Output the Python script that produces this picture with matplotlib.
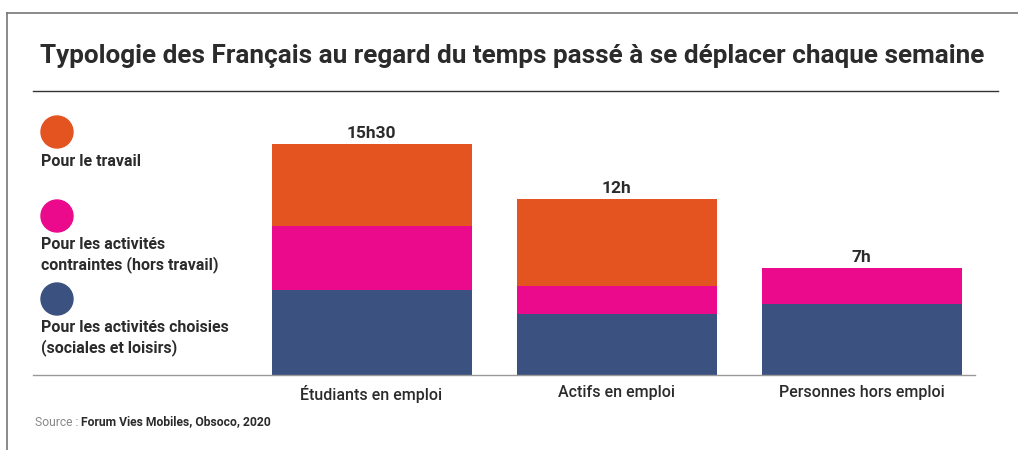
import matplotlib.pyplot as plt
from matplotlib.patches import Ellipse
from matplotlib.lines import Line2D
import numpy as np
from matplotlib import font_manager

# Données (heures par semaine)
categories = ['Étudiants en emploi', 'Actifs en emploi', 'Personnes hors emploi']
choisies = [5.7, 4.1, 4.75]
contraintes = [4.3, 1.9, 2.4]
travail = [5.5, 5.8, 0.0]
totaux_labels = ['15h30', '12h', '7h']
series_labels = ['Pour le travail',
                 'Pour les activités\ncontraintes (hors travail)',
                 'Pour les activités choisies\n(sociales et loisirs)']

COL_TRAVAIL = '#E35420'
COL_CONTR = '#EB0A8C'
COL_CHOIS = '#3B5280'
TXT = '#2B2B2B'

installed = {f.name for f in font_manager.fontManager.ttflist}
fam = [f for f in ['Liberation Sans Narrow', 'DejaVu Sans Condensed', 'Roboto', 'DejaVu Sans'] if f in installed]
plt.rcParams['font.family'] = fam

W, H = 1018, 450
fig = plt.figure(figsize=(W / 100, H / 100), dpi=100)

def fx(px):
    return px / W

def fy(py):
    return 1 - py / H

# cadre
fig.add_artist(Line2D([fx(7), 1], [fy(13), fy(13)], color='#777777', lw=1.2))
fig.add_artist(Line2D([fx(7), fx(7)], [fy(13), 0], color='#777777', lw=1.2))

# titre
fig.text(fx(40), fy(56), 'Typologie des Français au regard du temps passé à se déplacer chaque semaine',
         fontsize=18.8, fontweight='bold', color=TXT, va='center', ha='left')
fig.add_artist(Line2D([fx(33), fx(998)], [fy(91), fy(91)], color='#333333', lw=1))

# axes : baseline y=375, x de 33 à 975
ax = fig.add_axes([fx(33), fy(375), fx(975) - fx(33), fy(100) - fy(375)])
px_per_unit = 245
x = np.arange(len(categories))
ax.set_xlim((33 - 371.5) / px_per_unit, (975 - 371.5) / px_per_unit)
ax.set_ylim(0, 275 / 14.9)

bw = 200 / px_per_unit
b1 = np.array(choisies)
b2 = b1 + np.array(contraintes)
ax.bar(x, choisies, width=bw, color=COL_CHOIS)
ax.bar(x, contraintes, width=bw, bottom=b1, color=COL_CONTR)
ax.bar(x, travail, width=bw, bottom=b2, color=COL_TRAVAIL)

tot = b2 + np.array(travail)
for xi, t, lab in zip(x, tot, totaux_labels):
    ax.text(xi, t + 0.2, lab, ha='center', va='bottom', fontsize=12.5,
            fontweight='bold', color=TXT)

for s in ['top', 'right', 'left']:
    ax.spines[s].set_visible(False)
ax.spines['bottom'].set_color('#999999')
ax.spines['bottom'].set_linewidth(1)
ax.set_yticks([])
ax.set_xticks(x)
ax.set_xticklabels(categories, fontsize=11.5, color=TXT, fontweight='medium')
ax.tick_params(axis='x', length=0, pad=7)
ax.patch.set_alpha(0)

# légende
leg_y = [132, 216, 299]
txt_y = [162, 255, 338]
for c, ly, ty, lab in zip([COL_TRAVAIL, COL_CONTR, COL_CHOIS], leg_y, txt_y, series_labels):
    fig.add_artist(Ellipse((fx(57), fy(ly)), width=32 / W, height=32 / H, color=c,
                           transform=fig.transFigure))
    fig.text(fx(41), fy(ty), lab, fontsize=11.5, fontweight='bold', color=TXT,
             va='center', ha='left', linespacing=1.3)

# source
t1 = fig.text(fx(35), fy(422), 'Source : ', fontsize=8.7, color='#888888', va='center', ha='left')
fig.canvas.draw()
bb = t1.get_window_extent()
fig.text(bb.x1 / W, fy(422), 'Forum Vies Mobiles, Obsoco, 2020', fontsize=8.7,
         fontweight='bold', color=TXT, va='center', ha='left')

fig.savefig('out.png', dpi=100)
